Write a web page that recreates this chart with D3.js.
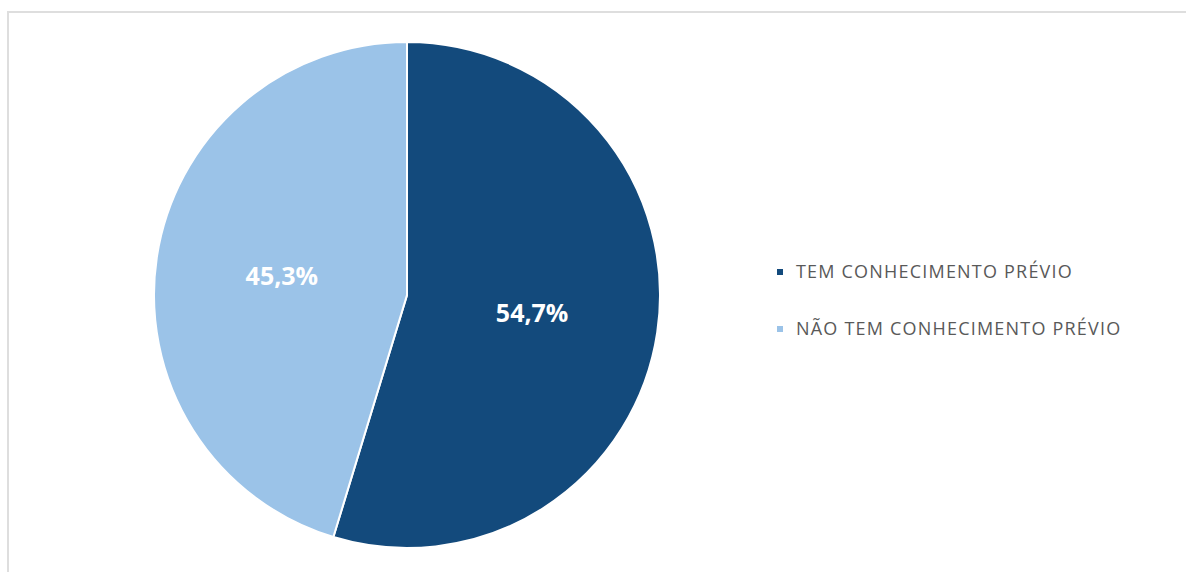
<!DOCTYPE html>
<html>
<head>
<meta charset="utf-8">
<script src="https://cdn.jsdelivr.net/npm/d3@7"></script>
<style>
  body { margin: 0; background: #fff; }
  svg { display: block; }
</style>
</head>
<body>
<svg id="chart" width="1186" height="572"></svg>
<script>
// dados
var categorias = ["TEM CONHECIMENTO PRÉVIO", "NÃO TEM CONHECIMENTO PRÉVIO"];
var valores = [54.7, 45.3];
var cores = ["#134a7c", "#9bc3e8"];

var svg = d3.select("#chart");

// moldura
svg.append("rect")
    .attr("x", 8).attr("y", 12)
    .attr("width", 1200).attr("height", 600)
    .attr("fill", "none")
    .attr("stroke", "#dedede")
    .attr("stroke-width", 2);

var cx = 407, cy = 295, raio = 253;

var dados = categorias.map(function (c, i) {
    return { nome: c, valor: valores[i], cor: cores[i] };
});

var pie = d3.pie().sort(null).value(function (d) { return d.valor; });
var arco = d3.arc().innerRadius(0).outerRadius(raio);
var arcoLabel = d3.arc().innerRadius(raio / 2).outerRadius(raio / 2);

var g = svg.append("g").attr("transform", "translate(" + cx + "," + cy + ")");

g.selectAll("path")
    .data(pie(dados))
    .enter().append("path")
    .attr("d", arco)
    .attr("fill", function (d) { return d.data.cor; })
    .attr("stroke", "#fff")
    .attr("stroke-width", 2);

g.selectAll("text")
    .data(pie(dados))
    .enter().append("text")
    .attr("transform", function (d) { return "translate(" + arcoLabel.centroid(d) + ")"; })
    .attr("text-anchor", "middle")
    .attr("dy", "0.35em")
    .attr("fill", "#fff")
    .style("font-family", "'Open Sans', sans-serif")
    .style("font-weight", "bold")
    .style("font-size", "25px")
    .text(function (d) { return d3.format(".1f")(d.data.valor).replace(".", ",") + "%"; });

// legenda
var legenda = svg.append("g").attr("transform", "translate(777,272)");
var item = legenda.selectAll("g")
    .data(dados)
    .enter().append("g")
    .attr("transform", function (d, i) { return "translate(0," + (i * 57) + ")"; });

item.append("rect")
    .attr("x", 0).attr("y", -3)
    .attr("width", 6).attr("height", 6)
    .attr("fill", function (d) { return d.cor; });

item.append("text")
    .attr("x", 19)
    .attr("dy", "0.35em")
    .attr("fill", "#595959")
    .style("font-family", "'Open Sans', sans-serif")
    .style("font-size", "18px")
    .style("letter-spacing", "1.2px")
    .text(function (d) { return d.nome; });
</script>
</body>
</html>
